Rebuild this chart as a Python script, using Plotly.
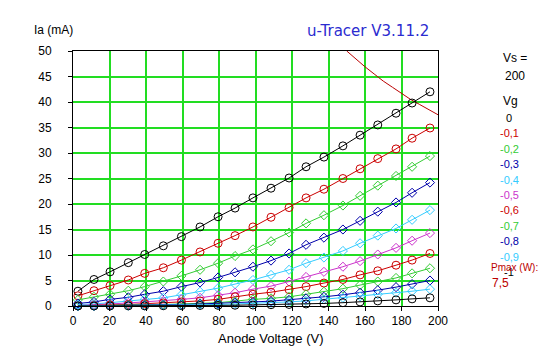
import plotly.graph_objects as go

# ---- data ----
anode_v = [2.7, 11.5, 20.3, 30.3, 39.3, 49.5, 59.4, 69.6, 79.5, 88.8, 98.6,
           108.5, 118.4, 127.7, 137.5, 147.9, 157.3, 167.0, 177.0, 185.8, 195.6]

grid_v = ["0", "-0,1", "-0,2", "-0,3", "-0,4", "-0,5", "-0,6", "-0,7", "-0,8", "-0,9", "-1"]

ia_0   = [2.9, 5.2, 6.7, 8.5, 10.1, 11.8, 13.6, 15.5, 17.5, 19.2, 21.2, 23.1, 25.1, 27.3, 29.2, 31.4, 33.5, 35.5, 37.8, 39.8, 42.0]
ia_m01 = [2.0, 3.0, 4.0, 5.1, 6.4, 7.5, 9.0, 10.6, 12.3, 13.8, 15.5, 17.4, 19.3, 21.2, 22.9, 25.0, 26.9, 28.9, 30.8, 32.9, 34.9]
ia_m02 = [1.2, 1.8, 2.3, 3.0, 3.8, 4.8, 5.9, 7.1, 8.4, 9.8, 11.1, 12.7, 14.4, 16.2, 17.8, 19.7, 21.6, 23.6, 25.5, 27.3, 29.4]
ia_m03 = [0.5, 0.8, 1.3, 1.7, 2.3, 2.9, 3.8, 4.6, 5.6, 6.6, 7.7, 8.9, 10.3, 12.0, 13.4, 15.0, 16.7, 18.5, 20.3, 22.2, 24.2]
ia_m04 = [0.3, 0.4, 0.65, 1.0, 1.3, 1.6, 2.2, 2.8, 3.5, 4.3, 5.1, 6.1, 7.1, 8.4, 9.5, 10.8, 12.3, 13.8, 15.2, 16.9, 18.8]
ia_m05 = [0.1, 0.2, 0.4, 0.6, 0.8, 1.0, 1.3, 1.6, 2.1, 2.6, 3.3, 3.9, 4.8, 5.7, 6.7, 7.7, 8.8, 10.1, 11.4, 12.8, 14.3]
ia_m06 = [0.05, 0.1, 0.2, 0.3, 0.45, 0.6, 0.8, 1.0, 1.3, 1.8, 2.3, 2.7, 3.2, 3.8, 4.5, 5.2, 6.1, 6.9, 8.0, 9.0, 10.3]
ia_m07 = [0.02, 0.05, 0.1, 0.15, 0.2, 0.3, 0.4, 0.5, 0.65, 0.95, 1.3, 1.5, 1.8, 2.3, 2.8, 3.4, 4.1, 4.8, 5.5, 6.4, 7.4]
ia_m08 = [0.0, 0.03, 0.06, 0.1, 0.15, 0.2, 0.3, 0.4, 0.5, 0.65, 0.8, 0.95, 1.2, 1.5, 1.8, 2.2, 2.6, 3.1, 3.7, 4.3, 5.0]
ia_m09 = [0.0, 0.02, 0.04, 0.06, 0.1, 0.15, 0.2, 0.25, 0.3, 0.4, 0.5, 0.6, 0.8, 1.0, 1.3, 1.6, 1.9, 2.3, 2.6, 2.9, 3.3]
ia_m10 = [0.0, 0.0, 0.01, 0.02, 0.03, 0.05, 0.07, 0.1, 0.12, 0.15, 0.2, 0.25, 0.3, 0.4, 0.5, 0.65, 0.8, 1.0, 1.2, 1.4, 1.6]

series = [ia_0, ia_m01, ia_m02, ia_m03, ia_m04, ia_m05, ia_m06, ia_m07, ia_m08, ia_m09, ia_m10]

pmax_v = [150, 155, 160, 165, 170, 175, 180, 185, 190, 195, 200]
pmax_ia = [50.0, 48.4, 46.9, 45.5, 44.1, 42.9, 41.7, 40.5, 39.5, 38.5, 37.5]

x_ticks = [0, 20, 40, 60, 80, 100, 120, 140, 160, 180, 200]
y_ticks = [0, 5, 10, 15, 20, 25, 30, 35, 40, 45, 50]

# ---- styles ----
colors = ["#000000", "#cc0000", "#33cc33", "#0000aa", "#33ccff", "#cc33cc",
          "#cc0000", "#33cc33", "#0000aa", "#33ccff", "#000000"]
symbols = ["circle-open", "circle-open", "diamond-open", "diamond-open", "diamond-open",
           "diamond-open", "circle-open", "diamond-open", "diamond-open", "diamond-open", "circle-open"]
GRID = "#22dd22"
FONT = "Liberation Sans"

# page has an 8px body margin; plot area targets x 73..438, y 51..306 in the window
OFF = 8
PL, PR, PT, PB = 73, 438, 51, 306

fig = go.Figure()

fig.add_trace(go.Scatter(x=pmax_v, y=pmax_ia, mode="lines",
                         line=dict(color="#bb0000", width=1), hoverinfo="skip"))

for ys, c, s in zip(series, colors, symbols):
    fig.add_trace(go.Scatter(
        x=anode_v, y=ys, mode="lines+markers", cliponaxis=False,
        line=dict(color=c, width=1),
        marker=dict(symbol=s, size=8 if s.startswith("circle") else 7,
                    color=c, line=dict(color=c, width=1))))

fig.update_layout(
    width=547 - OFF, height=357 - OFF,
    margin=dict(l=PL - OFF, r=547 - PR, t=PT - OFF, b=357 - PB),
    paper_bgcolor="white", plot_bgcolor="white",
    showlegend=False,
    font=dict(family=FONT, size=11, color="black"),
)

fig.update_xaxes(range=[0, 200], tickvals=x_ticks, ticktext=[str(v) for v in x_ticks],
                 showgrid=True, gridcolor=GRID, gridwidth=2,
                 zeroline=False, showline=True, linecolor="black", linewidth=1,
                 mirror=True, ticks="outside", ticklen=4, tickcolor="black",
                 tickfont=dict(family=FONT, size=12))
fig.update_yaxes(range=[0, 50], tickvals=y_ticks, ticktext=[str(v) for v in y_ticks],
                 showgrid=True, gridcolor=GRID, gridwidth=2,
                 zeroline=False, showline=True, linecolor="black", linewidth=1,
                 mirror=True, ticks="outside", ticklen=4, tickcolor="black",
                 ticklabelstandoff=14,
                 tickfont=dict(family=FONT, size=12))

def ptxt(px, py, s, color="black", size=11, family=FONT, xanchor="left"):
    fig.add_annotation(x=(px - PL) / (PR - PL), y=(PB - py) / (PB - PT),
                       xref="paper", yref="paper", text=s, showarrow=False,
                       xanchor=xanchor, yanchor="middle",
                       font=dict(family=family, size=size, color=color))

ptxt(32, 30, "Ia (mA)", size=12)
ptxt(305, 31, "u-Tracer V3.11.2", size=15, color="#2b2bd0", family="DejaVu Sans")
ptxt(216, 338, "Anode Voltage (V)", size=13)
ptxt(501, 58, "Vs =", size=12)
ptxt(503, 76, "200", size=12)
ptxt(501, 101, "Vg", size=12)
for i, (lab, c) in enumerate(zip(grid_v, colors)):
    ptxt(509, 118 + i * 15.4, lab, color=c, size=11, xanchor="center")
ptxt(489, 267, "Pmax (W):", color="#bb0000", size=10)
ptxt(490, 283, "7,5", color="#bb0000", size=12)

fig.write_html("out.html")
